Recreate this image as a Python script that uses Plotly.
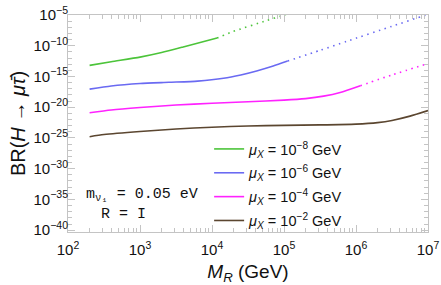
import plotly.graph_objects as go

# log10(M_R / GeV) sample positions and log10(BR) values
green_x_solid = [2.3, 2.6, 3.0, 3.3, 3.6, 4.07]
green_y_solid = [-13.2, -12.6, -11.85, -11.1, -10.2, -8.75]
green_x_dot = [4.07, 4.29, 4.76, 5.0, 5.1]
green_y_dot = [-8.75, -7.7, -5.9, -5.0, -4.6]

blue_x_solid = [2.3, 2.6, 3.0, 3.4, 3.8, 4.16, 4.4, 4.62, 4.85, 5.05]
blue_y_solid = [-17.06, -16.55, -16.15, -15.95, -15.75, -15.3, -14.75, -14.1, -13.3, -12.5]
blue_x_dot = [5.05, 5.5, 5.87, 6.5, 6.9, 7.0]
blue_y_dot = [-12.5, -10.75, -9.29, -6.83, -5.27, -4.9]

mag_x_solid = [2.3, 2.6, 3.0, 3.5, 4.0, 4.5, 5.0, 5.3, 5.55, 5.78, 6.06]
mag_y_solid = [-20.9, -20.45, -20.05, -19.65, -19.35, -19.1, -18.85, -18.6, -18.2, -17.6, -16.5]
mag_x_dot = [6.06, 6.5, 7.0]
mag_y_dot = [-16.5, -14.75, -12.9]

brown_x_solid = [2.3, 2.5, 3.0, 3.5, 4.0, 4.5, 5.0, 5.5, 6.0, 6.3, 6.5, 6.75, 7.0]
brown_y_solid = [-24.8, -24.45, -23.95, -23.55, -23.25, -23.05, -22.95, -22.88, -22.75, -22.5, -22.15, -21.45, -20.55]

labels = ["<i>μ</i><sub><i>X</i></sub> = 10<sup>−8</sup> GeV",
          "<i>μ</i><sub><i>X</i></sub> = 10<sup>−6</sup> GeV",
          "<i>μ</i><sub><i>X</i></sub> = 10<sup>−4</sup> GeV",
          "<i>μ</i><sub><i>X</i></sub> = 10<sup>−2</sup> GeV"]
colors = ["#4cc43a", "#6a6af2", "#ff22ff", "#5b4630"]

x_tick_exps = [2, 3, 4, 5, 6, 7]
y_tick_exps = [-5, -10, -15, -20, -25, -30, -35, -40]

p = lambda v: [10 ** e for e in v]

fig = go.Figure()
series = [
    (green_x_solid, green_y_solid, green_x_dot, green_y_dot),
    (blue_x_solid, blue_y_solid, blue_x_dot, blue_y_dot),
    (mag_x_solid, mag_y_solid, mag_x_dot, mag_y_dot),
    (brown_x_solid, brown_y_solid, None, None),
]
for i, ((xs, ys, xd, yd), lab, col) in enumerate(zip(series, labels, colors)):
    fig.add_trace(go.Scatter(x=p(xs), y=p(ys), mode="lines", name=lab, legendgroup=f"g{i}",
                             line=dict(color=col, width=1.6, shape="spline", smoothing=0.6)))
for (xs, ys, xd, yd), col in zip(series, colors):
    if xd is not None:
        fig.add_trace(go.Scatter(x=p(xd), y=p(yd), mode="lines", showlegend=False,
                                 line=dict(color=col, width=1.6, dash="1.5px,4.5px",
                                           shape="spline", smoothing=0.6)))

axis_col = "#c4c4c4"
tickfont = dict(family="Liberation Sans, Arial, sans-serif", size=15, color="#111")
minor_x = [m * 10 ** e for e in range(2, 7) for m in range(2, 10)]
minor_y = [10 ** e for e in range(-40, -4) if e % 5 != 0]

fig.update_xaxes(type="log", range=[2, 7], automargin=False, ticklabeloverflow="allow",
                 tickvals=p(x_tick_exps), ticklabelstandoff=4,
                 ticktext=[f"10<sup>{e}</sup>" for e in x_tick_exps],
                 ticks="inside", ticklen=7, tickcolor=axis_col, tickwidth=1,
                 minor=dict(tickvals=minor_x, ticks="inside", ticklen=4, tickcolor=axis_col),
                 showline=True, linecolor=axis_col, linewidth=1, mirror="allticks",
                 showgrid=False, zeroline=False, tickfont=tickfont,
                 title=dict(text="<i>M</i><sub><i>R</i></sub> (GeV)", standoff=10,
                            font=dict(family="Liberation Sans, Arial, sans-serif", size=19, color="#111")))
fig.update_yaxes(type="log", range=[-40.3, -5], automargin=False, ticklabeloverflow="allow",
                 tickvals=p(y_tick_exps), ticklabelstandoff=-4,
                 ticktext=[f"10<sup>−{-e}</sup>" for e in y_tick_exps],
                 ticks="inside", ticklen=7, tickcolor=axis_col, tickwidth=1,
                 minor=dict(tickvals=minor_y, ticks="inside", ticklen=4, tickcolor=axis_col),
                 showline=True, linecolor=axis_col, linewidth=1, mirror="allticks",
                 showgrid=False, zeroline=False, tickfont=tickfont,
                 title=dict(text="BR(<i>H</i> → <i>μ</i><i>τ̄</i>)", standoff=2,
                            font=dict(family="Liberation Sans, Arial, sans-serif", size=20, color="#111")))

mono = dict(family="Liberation Mono, Courier New, monospace", size=15, color="#111")
fig.add_annotation(xref="paper", yref="paper", x=(84 - 68) / 360, y=(232 - 195) / 217,
                   xanchor="left", yanchor="middle", showarrow=False,
                   text="m<sub>ν₁</sub> = 0.05 eV", font=mono)
fig.add_annotation(xref="paper", yref="paper", x=(99 - 68) / 360, y=(232 - 214) / 217,
                   xanchor="left", yanchor="middle", showarrow=False,
                   text="R = I", font=mono)

fig.update_layout(
    width=441, height=285,
    margin=dict(l=68, r=13, t=15, b=53),
    paper_bgcolor="white", plot_bgcolor="white",
    showlegend=True,
    legend=dict(x=0.392, y=(232 - 133) / 217, xanchor="left", yanchor="top",
                bgcolor="rgba(0,0,0,0)", borderwidth=0, traceorder="grouped",
                font=dict(family="Liberation Sans, Arial, sans-serif", size=14.5, color="#111"),
                itemwidth=30, tracegroupgap=2),
)
fig.write_html("out.html", config={"displayModeBar": False},
               post_script="document.body.style.margin='0';document.body.style.overflow='hidden';")
